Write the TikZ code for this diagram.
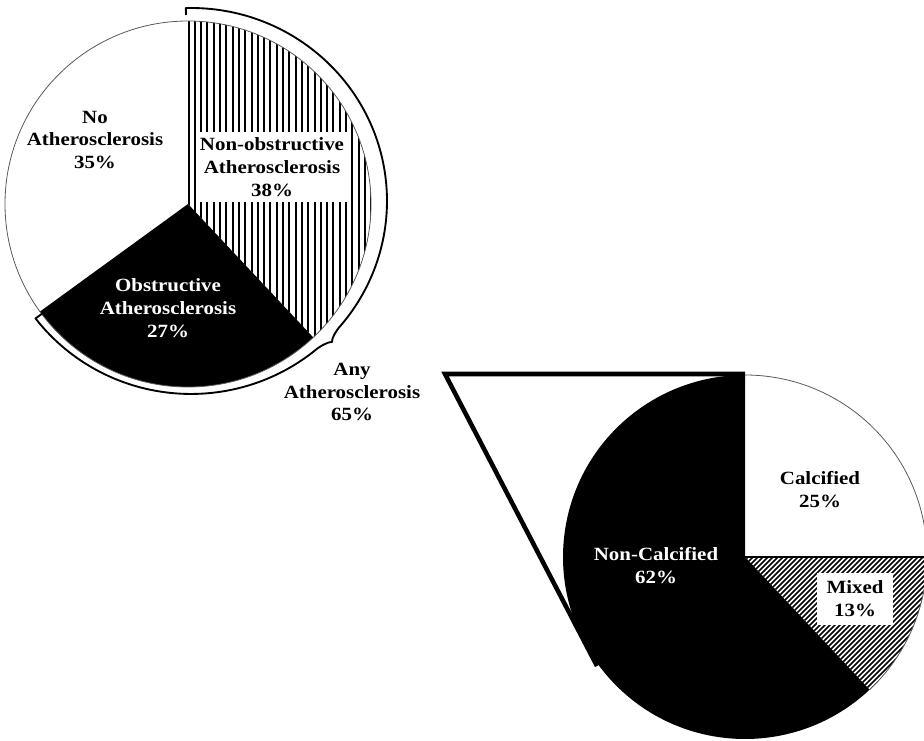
\documentclass[tikz,border=0pt]{standalone}
\usepackage{fontspec}
\setmainfont{Liberation Serif}[FakeStretch=1.12]
\begin{document}
\begin{tikzpicture}[x=0.75pt,y=0.75pt,
  lbl/.style={font=\fontsize{14}{17.2}\selectfont\bfseries, align=center, inner sep=0pt},
  rim/.style={draw=black!65, line width=0.6pt},
  hatch/.style={line width=1.5pt},
  zoomline/.style={line width=3.4pt, line join=miter},
  brace/.style={line width=1.4pt, line join=round}]
\useasboundingbox (0,0) rectangle (924,740);
\coordinate (C1) at (188,536);
\coordinate (C2) at (745,183);
\coordinate (B) at (191,539);
% ---------- top pie ----------
\fill[black] (C1) -- ++(-46.8:183) arc[start angle=-46.8,end angle=-144,radius=183] -- cycle;
\begin{scope}
  \clip (C1) -- ++(90:183) arc[start angle=90,end angle=-46.8,radius=183] -- cycle;
  \foreach \i in {0,...,30} \draw[hatch] ({188.5+\i*6.3},340) -- ++(0,400);
\end{scope}
\draw[rim] (C1) circle[radius=183];
% bracket
\coordinate (bs) at ([shift={(91.5:196 and 193)}]B);
\coordinate (be) at ([shift={(-142.5:196 and 193)}]B);
\draw[brace] (186,725) -- (bs)
  arc[start angle=91.5,end angle=-41,x radius=196,y radius=193]
  .. controls (336.9,410.1) and (331.3,401.5) .. (332,398)
  .. controls (328.5,398.7) and (319.3,393.1) .. (317,391.2)
  arc[start angle=-50,end angle=-142.5,x radius=196,y radius=193] -- (43,427);
% ---------- bottom pie ----------
\fill[black] (C2) -- ++(-46.8:182) arc[start angle=-46.8,end angle=-270,radius=182] -- cycle;
\begin{scope}
  \clip (C2) -- ++(0:182) arc[start angle=0,end angle=-46.8,radius=182] -- cycle;
  \foreach \i in {-50,...,50} \draw[line width=1.3pt] ({745+\i*5},-20) -- ++(220,220);
\end{scope}
\draw[rim] (C2) ++(90:182) arc[start angle=90,end angle=-46.8,radius=182];
\draw[line width=0.8pt] (C2) -- ++(0:182);
% zoom lines
\draw[zoomline] (597,74) -- (445,366) -- (745,366);
% ---------- labels ----------
\fill[white] (197,538) rectangle (347,608);
\fill[white] (817,115) rectangle (893,167);
\node[lbl] (no) at (95,600) {No\\Atherosclerosis\\35\%};
\node[lbl] (nonobs) at (272,573) {Non-obstructive\\Atherosclerosis\\38\%};
\node[lbl, text=white] (obs) at (168,432) {Obstructive\\Atherosclerosis\\27\%};
\node[lbl] (any) at (352,348) {Any\\Atherosclerosis\\65\%};
\node[lbl] (calc) at (820,250) {Calcified\\25\%};
\node[lbl, text=white] (noncalc) at (656,174) {Non-Calcified\\62\%};
\node[lbl] (mixed) at (855,141) {Mixed\\13\%};
\end{tikzpicture}
\end{document}
